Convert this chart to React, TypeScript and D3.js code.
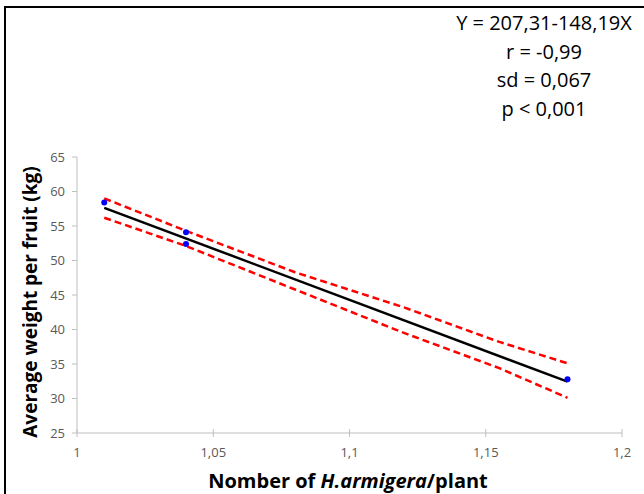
import * as d3 from "d3";
import React, { useEffect, useRef } from "react";

// observed points
const pointX = [1.01, 1.04, 1.04, 1.18];
const pointY = [58.4, 54.1, 52.4, 32.8];

// fitted line Y = 207,31 - 148,19X
const fitIntercept = 207.31;
const fitSlope = -148.19;
const fitRange = [1.01, 1.18];

// confidence band
const bandX = [1.01, 1.04, 1.08, 1.12, 1.155, 1.18];
const bandUpper = [59.0, 54.3, 48.3, 43.2, 38.2, 35.1];
const bandLower = [56.2, 52.1, 45.8, 39.5, 34.4, 30.1];

const xTicks = [1, 1.05, 1.1, 1.15, 1.2];
const yTicks = [25, 30, 35, 40, 45, 50, 55, 60, 65];

const statLines = ["Y = 207,31-148,19X", "r = -0,99", "sd = 0,067", "p < 0,001"];

const fmt = (v: number) => String(v).replace(".", ",");

export default function App() {
  const ref = useRef<SVGSVGElement>(null);

  useEffect(() => {
    const svg = d3.select(ref.current);
    svg.selectAll("*").remove();
    const W = 644;
    const H = 494;
    const margin = { top: 157, left: 77, right: 22, bottom: 61 };
    const width = W - margin.left - margin.right;
    const height = H - margin.top - margin.bottom;
    const font = "'Open Sans', sans-serif";

    svg.append("rect").attr("width", W).attr("height", H).attr("fill", "#fff");
    // frame (only left and top edges visible)
    svg
      .append("path")
      .attr("d", `M5,${H} V7 H${W}`)
      .attr("fill", "none")
      .attr("stroke", "#000")
      .attr("stroke-width", 2);

    const x = d3.scaleLinear().domain([1, 1.2]).range([0, width]);
    const y = d3.scaleLinear().domain([25, 65]).range([height, 0]);

    const main = svg
      .append("g")
      .attr("transform", `translate(${margin.left}, ${margin.top})`);

    const axisColor = "#bfbfbf";
    const labelColor = "#595959";

    // y axis
    main
      .append("line")
      .attr("y1", 0)
      .attr("y2", height)
      .attr("stroke", axisColor);
    yTicks.forEach((t) => {
      main
        .append("line")
        .attr("x1", -5)
        .attr("x2", 0)
        .attr("y1", y(t))
        .attr("y2", y(t))
        .attr("stroke", axisColor);
      main
        .append("text")
        .text(t)
        .attr("x", -12)
        .attr("y", y(t))
        .attr("dy", "0.35em")
        .attr("text-anchor", "end")
        .attr("font-family", font)
        .attr("font-size", 13)
        .attr("fill", labelColor);
    });

    // x axis
    main
      .append("line")
      .attr("x1", 0)
      .attr("x2", width)
      .attr("y1", height)
      .attr("y2", height)
      .attr("stroke", axisColor);
    xTicks.forEach((t) => {
      main
        .append("line")
        .attr("x1", x(t))
        .attr("x2", x(t))
        .attr("y1", height - 4)
        .attr("y2", height + 4)
        .attr("stroke", axisColor);
      main
        .append("text")
        .text(fmt(t))
        .attr("x", x(t))
        .attr("y", height + 24)
        .attr("text-anchor", "middle")
        .attr("font-family", font)
        .attr("font-size", 13)
        .attr("fill", labelColor);
    });

    // confidence band
    const band = (vals: number[]) =>
      d3
        .line<number>()
        .x((_, i) => x(bandX[i]))
        .y((d) => y(d))(vals);
    [bandUpper, bandLower].forEach((vals) => {
      main
        .append("path")
        .attr("d", band(vals))
        .attr("fill", "none")
        .attr("stroke", "#ff0000")
        .attr("stroke-width", 2.5)
        .attr("stroke-dasharray", "7,4");
    });

    // regression line
    main
      .append("path")
      .attr(
        "d",
        d3
          .line<number>()
          .x((d) => x(d))
          .y((d) => y(fitIntercept + fitSlope * d))(fitRange)
      )
      .attr("stroke", "#000")
      .attr("stroke-width", 2.5)
      .attr("fill", "none");

    // points
    main
      .selectAll("circle")
      .data(pointX)
      .enter()
      .append("circle")
      .attr("cx", (d) => x(d))
      .attr("cy", (_, i) => y(pointY[i]))
      .attr("r", 3)
      .attr("fill", "#0000ff");

    // axis titles
    svg
      .append("text")
      .text("Average weight per fruit (kg)")
      .attr("transform", `translate(37, 302) rotate(-90)`)
      .attr("text-anchor", "middle")
      .attr("font-family", font)
      .attr("font-weight", 700)
      .attr("font-size", 19)
      .attr("fill", "#000");

    const xt = svg
      .append("text")
      .attr("x", 348)
      .attr("y", 488)
      .attr("text-anchor", "middle")
      .attr("font-family", font)
      .attr("font-weight", 700)
      .attr("font-size", 20)
      .attr("fill", "#000");
    xt.append("tspan").text("Nomber of ");
    xt.append("tspan").text("H.armigera").attr("font-style", "italic");
    xt.append("tspan").text("/plant");

    // statistics
    statLines.forEach((s, i) => {
      svg
        .append("text")
        .text(s)
        .attr("x", 544)
        .attr("y", 30 + i * 28.5)
        .attr("text-anchor", "middle")
        .attr("font-family", font)
        .attr("font-size", 20)
        .attr("fill", "#000");
    });
  }, []);

  return (
    <svg
      ref={ref}
      width={644}
      height={494}
      style={{ position: "absolute", left: 0, top: 0 }}
    />
  );
}
